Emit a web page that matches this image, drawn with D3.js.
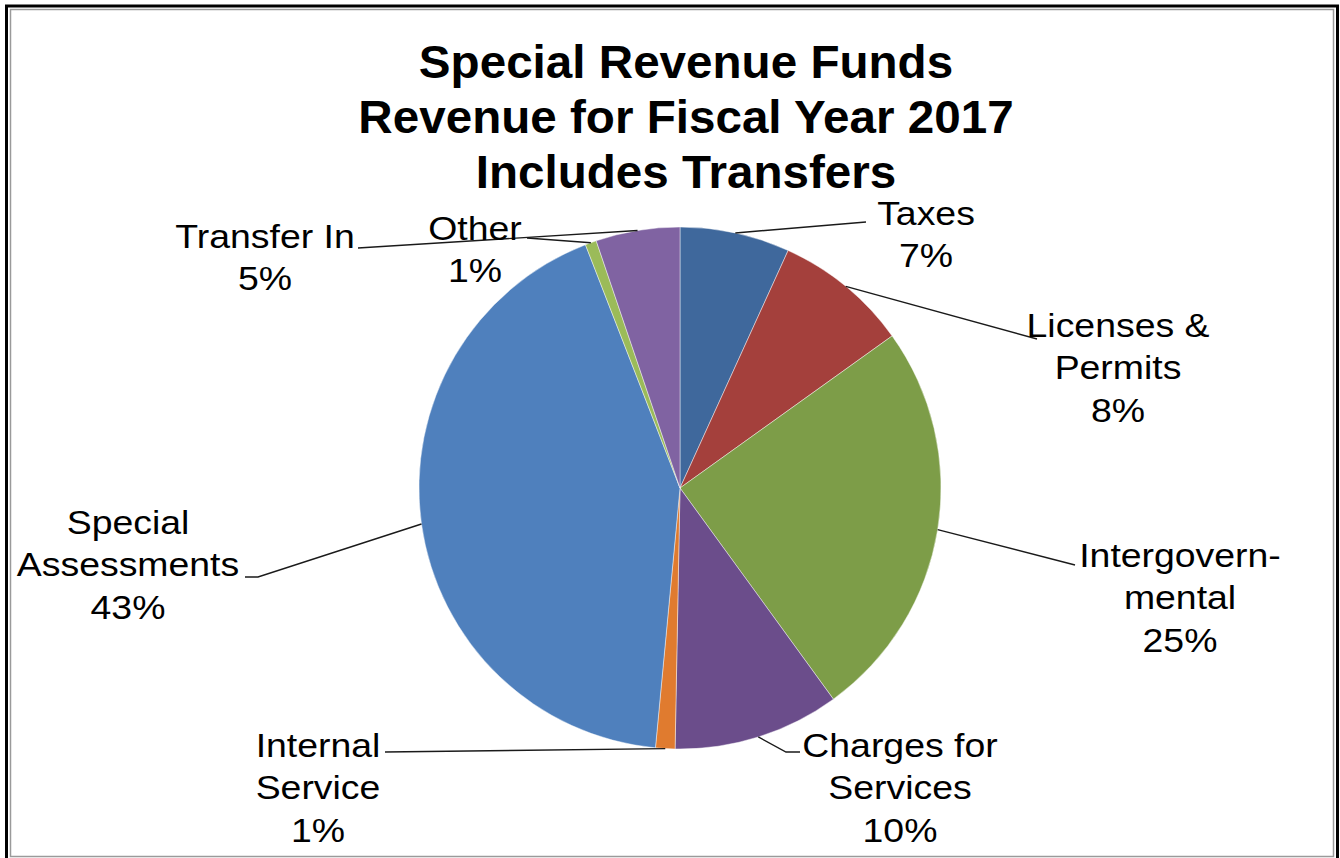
<!DOCTYPE html>
<html>
<head>
<meta charset="utf-8">
<script src="https://cdn.jsdelivr.net/npm/d3@7"></script>
<style>
  html, body { margin: 0; padding: 0; background: #fff; }
  svg { display: block; }
</style>
</head>
<body>
<svg id="chart" width="1340" height="858"></svg>
<script>
// Revenue sources, clockwise from 12 o'clock (percent of total)
const categories = ["Taxes", "Licenses & Permits", "Intergovernmental", "Charges for Services",
                    "Internal Service", "Special Assessments", "Other", "Transfer In"];
const shares = [6.8, 8.3, 24.9, 10.3, 1.2, 42.6, 0.7, 5.2];
const labelLines = [
  ["Taxes"], ["Licenses &", "Permits"], ["Intergovern-", "mental"], ["Charges for", "Services"],
  ["Internal", "Service"], ["Special", "Assessments"], ["Other"], ["Transfer In"]
];
const sliceColors = ["#3f689c", "#a4403c", "#7d9d48", "#6b4d8b", "#e07b2f", "#4f80bd", "#9bbb59", "#8063a2"];
const titleLines = ["Special Revenue Funds", "Revenue for Fiscal Year 2017", "Includes Transfers"];

// Label placement: text centre, first baseline, and where each leader line meets the text
const labelLayout = [
  { x: 926,  y: 225, end: [[866, 222]] },
  { x: 1118, y: 337, end: [[1037, 339]] },
  { x: 1180, y: 567, end: [[1075, 565]] },
  { x: 900,  y: 757, end: [[786, 752], [800, 752]] },
  { x: 318,  y: 757, end: [[385, 752]] },
  { x: 128,  y: 534, end: [[258, 577], [245, 577]] },
  { x: 475,  y: 240, end: [[527, 238]] },
  { x: 265,  y: 248, end: [[358, 248]] }
];

const svg = d3.select("#chart");

// Frame: heavy outer rule plus thin grey inner rule
svg.append("rect").attr("x", 6.5).attr("y", 6).attr("width", 1331).attr("height", 860)
  .attr("fill", "none").attr("stroke", "#000").attr("stroke-width", 3);
svg.append("rect").attr("x", 10.5).attr("y", 9.5).attr("width", 1323).attr("height", 847)
  .attr("fill", "none").attr("stroke", "#9a9a9a").attr("stroke-width", 1.5);

// Title (slightly widened glyphs)
svg.append("g").selectAll("text").data(titleLines).join("text")
  .attr("transform", (d, i) => `translate(686,${78 + i * 55}) scale(1.035,1)`)
  .attr("x", 0).attr("y", 0)
  .attr("text-anchor", "middle")
  .attr("font-family", "'Liberation Sans', Arial, sans-serif")
  .attr("font-weight", "bold").attr("font-size", 46).attr("fill", "#000")
  .text(d => d);

// Pie
const cx = 680, cy = 488, R = 261;
const data = categories.map((c, i) => ({ name: c, value: shares[i], i }));
const pie = d3.pie().value(d => d.value).sort(null);
const arcs = pie(data);
const arc = d3.arc().innerRadius(0).outerRadius(R);

const g = svg.append("g").attr("transform", `translate(${cx},${cy})`);
g.selectAll("path").data(arcs).join("path")
  .attr("d", arc)
  .attr("fill", d => sliceColors[d.data.i])
  .attr("stroke", "rgba(255,255,255,0.55)").attr("stroke-width", 0.8);

// Leader lines from the middle of each slice's rim to its label
const rim = a => {
  const m = (a.startAngle + a.endAngle) / 2;
  return [cx + R * Math.sin(m), cy - R * Math.cos(m)];
};
const line = d3.line();
svg.append("g").selectAll("path").data(arcs).join("path")
  .attr("d", d => line([rim(d), ...labelLayout[d.data.i].end]))
  .attr("fill", "none").attr("stroke", "#1a1a1a").attr("stroke-width", 1.4);

// Labels: category name lines followed by rounded percentage
const fmt = v => Math.round(v) + "%";
const lg = svg.append("g")
  .attr("font-family", "'Liberation Sans', Arial, sans-serif")
  .attr("font-size", 34).attr("fill", "#000").attr("text-anchor", "middle");
arcs.forEach(a => {
  const L = labelLayout[a.data.i];
  const lines = [...labelLines[a.data.i], fmt(a.data.value)];
  const t = lg.append("text")
    .attr("transform", `translate(${L.x},${L.y}) scale(1.1,1)`)
    .attr("x", 0).attr("y", 0);
  lines.forEach((s, k) => {
    t.append("tspan").attr("x", 0).attr("dy", k === 0 ? 0 : 42.5).text(s);
  });
});
</script>
</body>
</html>
